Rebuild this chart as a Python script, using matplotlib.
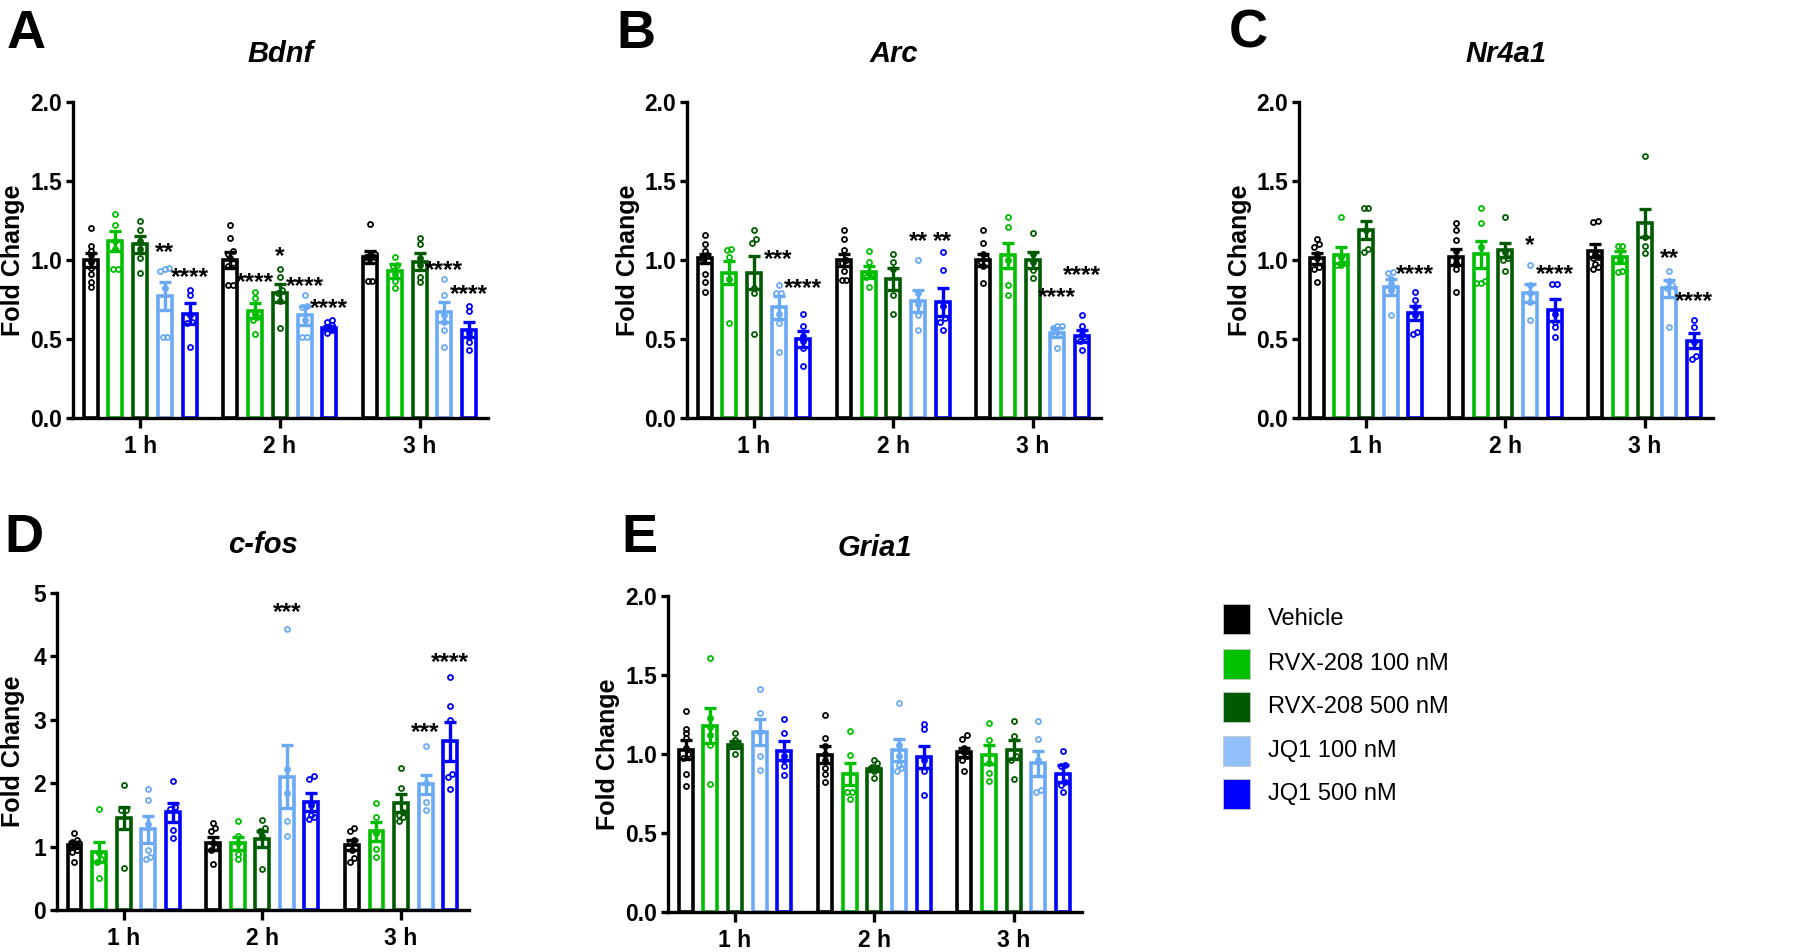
import matplotlib
matplotlib.use('Agg')
import matplotlib.pyplot as plt
from matplotlib.patches import Rectangle
import numpy as np

plt.rcParams['font.family'] = ['Liberation Sans', 'DejaVu Sans']

groups = ['1 h', '2 h', '3 h']
treatments = ['Vehicle', 'RVX-208 100 nM', 'RVX-208 500 nM', 'JQ1 100 nM', 'JQ1 500 nM']
colors = ['#000000', '#00BE00', '#005A00', '#6AAAF5', '#0000FF']
legend_colors = ['#000000', '#00C000', '#005A00', '#92C0FC', '#0000FF']

# ---------------- Bdnf ----------------
bdnf_mean = [[1.00, 1.12, 1.10, 0.77, 0.66],
             [1.00, 0.68, 0.79, 0.65, 0.57],
             [1.02, 0.93, 0.99, 0.67, 0.56]]
bdnf_sem = [[0.045, 0.063, 0.055, 0.088, 0.065],
            [0.05, 0.047, 0.057, 0.06, 0.012],
            [0.04, 0.045, 0.053, 0.065, 0.046]]
bdnf_pts = [
    [[1.20, 1.09, 1.06, 1.03, 0.99, 0.95, 0.91, 0.86, 0.83], [1.29, 1.22, 1.12, 1.07, 0.94, 0.94],
     [1.25, 1.19, 1.12, 1.07, 1.01, 0.92], [0.95, 0.93, 0.94, 0.82, 0.51, 0.51], [0.81, 0.78, 0.65, 0.61, 0.60, 0.45]],
    [[1.22, 1.14, 1.06, 1.04, 1.01, 0.98, 0.96, 0.84, 0.84], [0.80, 0.76, 0.66, 0.64, 0.62, 0.53],
     [0.94, 0.89, 0.81, 0.79, 0.74, 0.57], [0.78, 0.71, 0.70, 0.62, 0.51, 0.51], [0.62, 0.61, 0.59, 0.57, 0.555, 0.54]],
    [[1.23, 1.04, 1.03, 1.02, 1.02, 1.01, 1.00, 0.87, 0.87], [1.02, 0.97, 0.96, 0.91, 0.87, 0.82],
     [1.14, 1.10, 1.01, 0.97, 0.89, 0.86], [0.88, 0.78, 0.65, 0.61, 0.555, 0.45], [0.71, 0.68, 0.54, 0.51, 0.48, 0.43]]]
bdnf_stars = [(0, 3, '**', 1.05), (0, 4, '****', 0.89), (1, 1, '****', 0.86), (1, 2, '*', 1.02),
              (1, 3, '****', 0.83), (1, 4, '****', 0.69), (2, 3, '****', 0.935), (2, 4, '****', 0.78)]

# ---------------- Arc ----------------
arc_mean = [[1.01, 0.92, 0.92, 0.70, 0.50],
            [1.00, 0.925, 0.88, 0.74, 0.735],
            [1.00, 1.03, 1.00, 0.54, 0.52]]
arc_sem = [[0.03, 0.075, 0.105, 0.075, 0.05],
           [0.04, 0.038, 0.07, 0.07, 0.09],
           [0.035, 0.08, 0.05, 0.03, 0.04]]
arc_pts = [
    [[1.16, 1.10, 1.06, 1.03, 1.01, 0.91, 0.86, 0.80], [1.07, 1.065, 1.02, 0.88, 0.60],
     [1.19, 1.13, 1.11, 0.82, 0.79, 0.53], [0.84, 0.79, 0.79, 0.66, 0.60, 0.42], [0.66, 0.58, 0.52, 0.49, 0.44, 0.33]],
    [[1.19, 1.13, 1.065, 1.00, 0.98, 0.93, 0.875, 0.875], [1.06, 0.99, 0.92, 0.91, 0.89, 0.83],
     [1.04, 0.99, 0.94, 0.78, 0.66], [1.00, 0.79, 0.72, 0.65, 0.56], [1.05, 0.935, 0.71, 0.63, 0.61, 0.56]],
    [[1.19, 1.11, 1.04, 1.01, 0.99, 0.96, 0.855], [1.27, 1.21, 1.00, 0.84, 0.78],
     [1.17, 1.04, 0.99, 0.935, 0.885], [0.58, 0.58, 0.57, 0.53, 0.53, 0.44], [0.65, 0.58, 0.53, 0.51, 0.49, 0.43]]]
arc_stars = [(0, 3, '***', 1.00), (0, 4, '****', 0.82), (1, 3, '**', 1.12), (1, 4, '**', 1.12),
             (2, 3, '****', 0.765), (2, 4, '****', 0.90)]

# ---------------- Nr4a1 ----------------
nr4a1_mean = [[1.01, 1.03, 1.19, 0.83, 0.665],
              [1.02, 1.035, 1.065, 0.79, 0.685],
              [1.06, 1.02, 1.235, 0.82, 0.49]]
nr4a1_sem = [[0.035, 0.05, 0.055, 0.05, 0.045],
             [0.05, 0.085, 0.045, 0.055, 0.07],
             [0.04, 0.04, 0.09, 0.055, 0.045]]
nr4a1_pts = [
    [[1.135, 1.10, 1.08, 1.04, 1.01, 0.955, 0.945, 0.86], [1.27, 1.02, 0.98, 0.97, 0.97, 0.98],
     [1.33, 1.33, 1.19, 1.07, 1.05], [0.925, 0.92, 0.88, 0.85, 0.81, 0.655], [0.80, 0.75, 0.70, 0.65, 0.545, 0.53]],
    [[1.235, 1.19, 1.125, 1.06, 1.01, 0.98, 0.945, 0.80], [1.33, 1.235, 1.08, 0.865, 0.855, 0.855],
     [1.27, 1.05, 1.01, 1.00, 0.93], [0.97, 0.84, 0.79, 0.735, 0.62], [0.845, 0.845, 0.66, 0.61, 0.575, 0.515]],
    [[1.245, 1.24, 1.04, 1.02, 1.01, 0.975, 0.955, 0.945], [1.09, 1.09, 1.00, 0.93, 0.925],
     [1.66, 1.145, 1.09, 1.045], [0.93, 0.87, 0.84, 0.825, 0.575], [0.62, 0.575, 0.48, 0.39, 0.375]]]
nr4a1_stars = [(0, 4, '****', 0.91), (1, 3, '*', 1.09), (1, 4, '****', 0.91),
               (2, 3, '**', 1.01), (2, 4, '****', 0.735)]

# ---------------- c-fos ----------------
cfos_mean = [[1.03, 0.91, 1.45, 1.27, 1.54],
             [1.05, 1.05, 1.12, 2.105, 1.70],
             [1.03, 1.24, 1.69, 1.98, 2.66]]
cfos_sem = [[0.05, 0.16, 0.18, 0.22, 0.145],
            [0.10, 0.10, 0.125, 0.49, 0.14],
            [0.08, 0.145, 0.145, 0.15, 0.31]]
cfos_pts = [
    [[1.21, 1.10, 1.08, 1.05, 1.05, 1.00, 0.95, 0.92, 0.75], [1.59, 0.895, 0.80, 0.76, 0.50],
     [1.97, 1.58, 1.58, 0.67], [1.905, 1.74, 1.35, 0.95, 0.84, 0.80], [2.04, 1.63, 1.60, 1.26, 1.14]],
    [[1.38, 1.29, 1.24, 1.05, 1.00, 0.95, 0.72], [1.405, 1.16, 1.05, 0.89, 0.80],
     [1.42, 1.30, 1.24, 1.16, 0.64], [4.43, 2.22, 1.84, 1.41, 1.17], [2.115, 2.06, 1.66, 1.50, 1.46, 1.43]],
    [[1.29, 1.24, 1.10, 1.05, 0.95, 0.82, 0.75], [1.68, 1.47, 1.21, 0.97, 0.84],
     [2.24, 1.92, 1.55, 1.50, 1.46, 1.41], [2.59, 2.00, 1.71, 1.57], [3.67, 3.22, 2.99, 2.15, 2.105, 1.905]]]
cfos_stars = [(1, 3, '***', 4.69), (2, 3, '***', 2.80), (2, 4, '****', 3.91)]

# ---------------- Gria1 ----------------
gria1_mean = [[1.026, 1.18, 1.06, 1.14, 1.02],
              [0.995, 0.875, 0.905, 1.026, 0.98],
              [1.01, 0.995, 1.026, 0.94, 0.875]]
gria1_sem = [[0.06, 0.11, 0.02, 0.08, 0.06],
             [0.055, 0.07, 0.015, 0.07, 0.07],
             [0.03, 0.06, 0.06, 0.08, 0.055]]
gria1_pts = [
    [[1.27, 1.16, 1.13, 1.10, 1.04, 1.00, 0.975, 0.875, 0.795], [1.61, 1.23, 1.17, 1.12, 1.06, 0.81],
     [1.13, 1.09, 1.07, 1.05, 1.00], [1.41, 1.26, 1.14, 0.99, 0.90], [1.22, 1.13, 0.99, 0.96, 0.925, 0.87]],
    [[1.25, 1.10, 1.05, 1.00, 0.965, 0.91, 0.875, 0.82], [1.145, 0.995, 0.76, 0.76, 0.715],
     [0.96, 0.94, 0.92, 0.89, 0.85], [1.32, 1.06, 0.985, 0.93, 0.91, 0.89], [1.19, 1.16, 0.96, 0.89, 0.74]],
    [[1.12, 1.095, 1.04, 1.01, 0.99, 0.965, 0.89], [1.195, 1.09, 0.94, 0.88, 0.83],
     [1.21, 1.115, 0.99, 0.965, 0.84], [1.21, 1.095, 0.96, 0.77, 0.76], [1.02, 0.93, 0.925, 0.825, 0.805, 0.76]]]
gria1_stars = []

W, H = 1800, 952
fig = plt.figure(figsize=(W / 100, H / 100), dpi=100)

def px_axes(x0, y0, x1, y1):
    return fig.add_axes([x0 / W, 1 - y1 / H, (x1 - x0) / W, (y1 - y0) / H])

OFF = 0.177
BW = 0.10

def spread(vals, thr, step=0.032, max_per_row=3):
    """Horizontal offsets so that near-equal points sit side by side (within the bar)."""
    vals = np.asarray(vals, dtype=float)
    order = np.argsort(vals)
    offs = np.zeros(len(vals))
    clusters = []
    cluster = [order[0]]
    for b in order[1:]:
        if vals[b] - vals[cluster[0]] < thr and len(cluster) < max_per_row:
            cluster.append(b)
        else:
            clusters.append(cluster)
            cluster = [b]
    clusters.append(cluster)
    for cl in clusters:
        m = len(cl)
        for j, idx in enumerate(cl):
            offs[idx] = (j - (m - 1) / 2) * step
    return offs

def panel(rect, title, letter, letter_xy, means, sems, pts, stars, ymax, yticks, yticklabels, label_x):
    ax = px_axes(*rect)
    means = np.array(means)
    sems = np.array(sems)
    for s in range(5):
        xs = np.arange(3) + (s - 2) * OFF
        ax.bar(xs, means[:, s], width=BW, facecolor='white', edgecolor=colors[s], linewidth=2.6, zorder=2)
    for g in range(3):
        for s in range(5):
            x = g + (s - 2) * OFF
            vals = pts[g][s]
            offs = spread(vals, ymax * 0.014)
            ax.plot(offs + x, vals, 'o', markerfacecolor='none', markeredgecolor=colors[s],
                    markersize=3.6, markeredgewidth=1.3, zorder=3, clip_on=False)
    for s in range(5):
        xs = np.arange(3) + (s - 2) * OFF
        ax.errorbar(xs, means[:, s], yerr=sems[:, s], fmt='none', ecolor=colors[s], elinewidth=2.4,
                    capsize=4.0, capthick=2.4, zorder=4)
    for g, s, lab, yv in stars:
        ax.text(g + (s - 2) * OFF, yv, lab, ha='center', va='center', fontsize=17.5, fontweight='bold', zorder=5)
    ax.set_xlim(-0.48, 2.49)
    ax.set_ylim(0, ymax)
    ax.set_yticks(yticks)
    ax.set_yticklabels(yticklabels)
    ax.set_xticks(range(3))
    ax.set_xticklabels(groups)
    for sp in ['top', 'right']:
        ax.spines[sp].set_visible(False)
    for sp in ['left', 'bottom']:
        ax.spines[sp].set_linewidth(2.4)
    ax.tick_params(axis='both', width=2.4, labelsize=16.5, direction='out')
    ax.tick_params(axis='y', length=5, pad=3)
    ax.tick_params(axis='x', length=7, pad=5)
    for t in ax.get_xticklabels() + ax.get_yticklabels():
        t.set_fontweight('bold')
    ax.set_ylabel('Fold Change', fontsize=18, fontweight='bold', va='center')
    ax.yaxis.set_label_coords(label_x, 0.5)
    ax.set_title(title, fontsize=21, fontweight='bold', fontstyle='italic', pad=29)
    fig.text(letter_xy[0] / W, 1 - letter_xy[1] / H, letter, fontsize=39, fontweight='bold',
             ha='left', va='baseline')
    return ax

yt2 = [0, 0.5, 1.0, 1.5, 2.0]
yl2 = ['0.0', '0.5', '1.0', '1.5', '2.0']
panel((73, 102, 488, 418), 'Bdnf', 'A', (7, 48), bdnf_mean, bdnf_sem, bdnf_pts, bdnf_stars, 2.0, yt2, yl2, -0.145)
panel((687, 102, 1101, 418), 'Arc', 'B', (616, 48), arc_mean, arc_sem, arc_pts, arc_stars, 2.0, yt2, yl2, -0.143)
panel((1299, 102, 1713, 418), 'Nr4a1', 'C', (1229, 48), nr4a1_mean, nr4a1_sem, nr4a1_pts, nr4a1_stars, 2.0, yt2, yl2, -0.143)
panel((57, 593, 469, 910), 'c-fos', 'D', (4, 552), cfos_mean, cfos_sem, cfos_pts, cfos_stars, 5, [0, 1, 2, 3, 4, 5],
      ['0', '1', '2', '3', '4', '5'], -0.107)
panel((668, 596, 1082, 912), 'Gria1', 'E', (621, 552), gria1_mean, gria1_sem, gria1_pts, gria1_stars, 2.0, yt2, yl2, -0.145)

# legend (squares + labels), rows placed in figure pixels
leg_rows_y = [619, 664, 707, 751, 794]
for i, (lab, c) in enumerate(zip(treatments, legend_colors)):
    yc = leg_rows_y[i]
    fig.patches.append(Rectangle((1223 / W, 1 - (yc + 15) / H), 27 / W, 30 / H, transform=fig.transFigure,
                                 facecolor=c, edgecolor='#C8C8C8', linewidth=0.6))
    fig.text(1268 / W, 1 - yc / H, lab, fontsize=17, ha='left', va='center')

fig.savefig('out.png', dpi=100)
